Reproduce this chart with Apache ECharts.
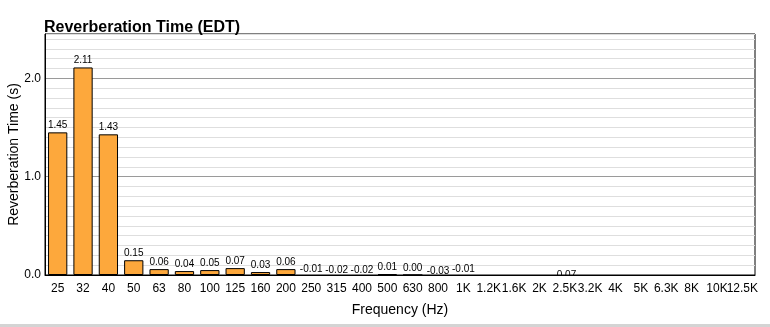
<!DOCTYPE html>
<html><head><meta charset="utf-8">
<script src="https://cdn.jsdelivr.net/npm/echarts@6/dist/echarts.min.js"></script>
<style>html,body{margin:0;padding:0;background:#fff}#c{width:770px;height:327px}</style>
</head><body><div id="c"></div>
<script>
const categories = ['25','32','40','50','63','80','100','125','160','200','250','315','400','500','630','800','1K','1.2K','1.6K','2K','2.5K','3.2K','4K','5K','6.3K','8K','10K','12.5K'];
const edtValues = [1.45,2.11,1.43,0.15,0.06,0.04,0.05,0.07,0.03,0.06,-0.01,-0.02,-0.02,0.01,0.00,-0.03,-0.01,null,null,null,-0.07,null,null,null,null,null,null,null];
const yTickLabels = ['0.0','1.0','2.0'];

const chart = echarts.init(document.getElementById('c'));
const font = 'Liberation Sans, Arial, Helvetica, sans-serif';
const gridColors = ['#9a9a9a','#dedede','#dedede','#dedede','#dedede','#dedede','#dedede','#dedede','#dedede','#dedede'];
chart.setOption({
  animation: false,
  backgroundColor: '#fff',
  title: {text: 'Reverberation Time (EDT)', left: 39, top: 15, textStyle: {fontFamily: font, fontSize: 16, fontWeight: 'bold', color: '#000'}},
  grid: {left: 45, right: 15, top: 34, bottom: 52, outerBoundsMode: 'none', containLabel: false, show: true, borderColor: '#000', borderWidth: 1, backgroundColor: 'transparent'},
  xAxis: {
    type: 'category', data: categories,
    name: 'Frequency (Hz)', nameLocation: 'middle', nameGap: 28, nameMoveOverlap: false,
    nameTextStyle: {fontFamily: font, fontSize: 14, color: '#000'},
    axisLine: {lineStyle: {color: '#000'}}, axisTick: {show: false},
    axisLabel: {interval: 0, fontFamily: font, fontSize: 12, color: '#000', margin: 8}
  },
  yAxis: {
    type: 'value', min: 0, max: 2.45, interval: 0.1,
    name: 'Reverberation Time (s)', nameLocation: 'middle', nameGap: 24, nameMoveOverlap: false,
    nameTextStyle: {fontFamily: font, fontSize: 14, color: '#000'},
    axisLine: {show: true, lineStyle: {color: '#000'}}, axisTick: {show: false},
    axisLabel: {fontFamily: font, fontSize: 12, color: '#000', margin: 4, showMaxLabel: false,
      formatter: function (v) { const i = Math.round(v * 10); return (i % 10 === 0 && Math.abs(v*10 - i) < 1e-6) ? yTickLabels[i / 10] || '' : ''; }},
    splitLine: {show: true, lineStyle: {color: gridColors, width: 1}}
  },
  series: [
    {type: 'bar', data: edtValues, barWidth: '76%', clip: true,
     itemStyle: {color: '#FDA83C', borderColor: '#000', borderWidth: 1}},
    {type: 'custom', clip: true, data: edtValues.map((v, i) => [i, v]),
     renderItem: function (params, api) {
       const v = api.value(1);
       if (v === null || v === undefined || isNaN(v)) return null;
       const p = api.coord([api.value(0), v]);
       return {type: 'text', x: p[0], y: p[1] - 2,
         style: {text: Number(v).toFixed(2), textAlign: 'center', textVerticalAlign: 'bottom', fill: '#000', font: '10px ' + font}};
     }}
  ],
  graphic: [{type: 'rect', left: 0, top: 324, shape: {width: 770, height: 3}, style: {fill: '#d4d4d4'}}]
});
</script></body></html>
